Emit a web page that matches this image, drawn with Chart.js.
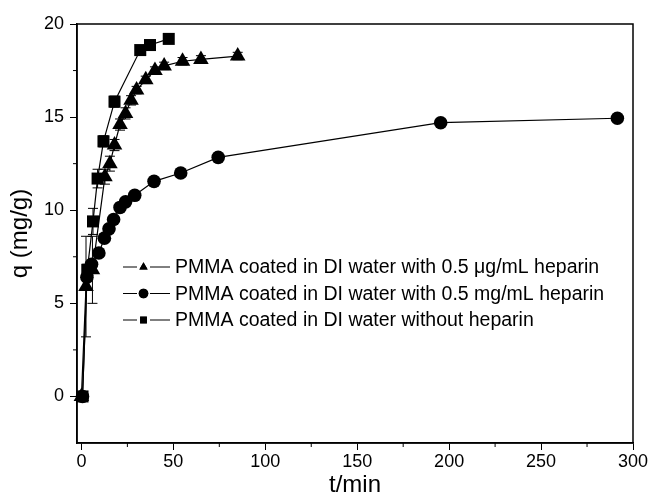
<!DOCTYPE html>
<html>
<head>
<meta charset="utf-8">
<script src="https://cdn.jsdelivr.net/npm/chart.js@4.4.1/dist/chart.umd.min.js"></script>
<style>
  html, body { margin: 0; padding: 0; background: #fff; }
</style>
</head>
<body>
<canvas id="chart" width="652" height="500"></canvas>
<script>
// series labels
const seriesLabels = [
  'PMMA coated in DI water with 0.5 \u03bcg/mL heparin',
  'PMMA coated in DI water with 0.5 mg/mL heparin',
  'PMMA coated in DI water without heparin'
];

// 0.5 ug/mL heparin (triangles)
const ugTime = [0, 2.5, 6, 12.8, 15.5, 18, 21, 24, 27, 30, 35, 40, 45, 55, 65, 85];
const ugQ    = [0, 5.9, 6.8, 11.8, 12.5, 13.5, 14.6, 15.2, 15.9, 16.45, 17.0, 17.5, 17.75, 18.0, 18.1, 18.28];
const ugErr  = [0, 2.7, 1.8, 0.4, 0.4, 0.3, 0.3, 0.3, 0.25, 0.2, 0.2, 0.2, 0.2, 0.2, 0.2, 0.2];

// 0.5 mg/mL heparin (circles)
const mgTime = [0.6, 3, 5.5, 9.5, 12.5, 15, 17.5, 21, 24, 29, 39.5, 54, 74.4, 195.4, 291.5];
const mgQ    = [0, 6.4, 7.1, 7.7, 8.5, 9.0, 9.5, 10.15, 10.45, 10.8, 11.55, 12.0, 12.84, 14.7, 14.94];

// without heparin (squares)
const noTime = [0.6, 3.2, 6.3, 8.8, 12, 18, 32, 37.3, 47.5];
const noQ    = [0, 6.8, 9.4, 11.7, 13.7, 15.83, 18.6, 18.87, 19.2];
const noErr  = [0, 0.3, 0.7, 0.5, 0.3, 0.3, 0.2, 0.2, 0.2];

const xTicks = [0, 50, 100, 150, 200, 250, 300];
const yTicks = [0, 5, 10, 15, 20];

const FONT = 'Arial, "Liberation Sans", sans-serif';

function pts(xs, ys) { return xs.map((x, i) => ({ x: x, y: ys[i] })); }

const errors = [ugErr, null, noErr];
const markers = [
  { style: 'triangle', radius: 9 },
  { style: 'circle', radius: 6.8 },
  { style: 'rect', radius: 8.5 }
];

const extras = {
  id: 'extras',
  beforeDatasetsDraw(chart) {
    const ctx = chart.ctx, xs = chart.scales.x, ys = chart.scales.y;
    ctx.save();
    ctx.strokeStyle = '#000';
    ctx.lineWidth = 1;
    errors.forEach((errs, i) => {
      if (!errs) return;
      const ds = chart.data.datasets[i];
      ds.data.forEach((p, j) => {
        if (!errs[j]) return;
        const x = xs.getPixelForValue(p.x);
        const y1 = ys.getPixelForValue(p.y - errs[j]);
        const y2 = ys.getPixelForValue(p.y + errs[j]);
        ctx.beginPath();
        ctx.moveTo(x, y1); ctx.lineTo(x, y2);
        ctx.moveTo(x - 5, y1); ctx.lineTo(x + 5, y1);
        ctx.moveTo(x - 5, y2); ctx.lineTo(x + 5, y2);
        ctx.stroke();
      });
    });
    ctx.restore();
  },
  afterDraw(chart) {
    const ctx = chart.ctx, a = chart.chartArea, xs = chart.scales.x, ys = chart.scales.y;
    ctx.save();
    ctx.strokeStyle = '#000';
    ctx.lineWidth = 1.5;
    ctx.strokeRect(a.left, a.top, a.right - a.left, a.bottom - a.top);
    // minor ticks
    ctx.lineWidth = 1;
    ctx.beginPath();
    for (let v = 25; v < 300; v += 50) {
      const x = xs.getPixelForValue(v);
      ctx.moveTo(x, a.bottom); ctx.lineTo(x, a.bottom + 4);
    }
    for (let v = 2.5; v < 20; v += 5) {
      const y = ys.getPixelForValue(v);
      ctx.moveTo(a.left, y); ctx.lineTo(a.left - 4, y);
    }
    ctx.stroke();

    // legend inside the plot
    const lx = 123, rows = [267, 293.5, 320];
    ctx.font = '19.5px ' + FONT;
    ctx.textBaseline = 'middle';
    ctx.fillStyle = '#000';
    rows.forEach((ry, i) => {
      ctx.beginPath();
      ctx.moveTo(lx, ry); ctx.lineTo(lx + 14, ry);
      ctx.moveTo(lx + 27, ry); ctx.lineTo(lx + 47, ry);
      ctx.stroke();
      Chart.helpers.drawPoint(ctx, { pointStyle: markers[i].style, radius: 4.8, borderWidth: 0 }, lx + 20.5, ry);
      ctx.fill();
      ctx.fillText(chart.data.datasets[i].label, lx + 52, ry + 1);
    });
    ctx.restore();
  }
};

const sets = [pts(ugTime, ugQ), pts(mgTime, mgQ), pts(noTime, noQ)];

new Chart(document.getElementById('chart'), {
  type: 'line',
  data: {
    datasets: sets.map((d, i) => ({
      label: seriesLabels[i],
      data: d,
      borderColor: '#000',
      backgroundColor: '#000',
      borderWidth: 1.2,
      pointStyle: markers[i].style,
      pointRadius: markers[i].radius,
      pointHoverRadius: markers[i].radius,
      pointBorderWidth: 0,
      tension: 0,
      clip: false
    }))
  },
  options: {
    responsive: false,
    animation: false,
    layout: { padding: { top: 24, right: 19, left: 0, bottom: 0 } },
    plugins: { legend: { display: false }, tooltip: { enabled: false } },
    scales: {
      x: {
        type: 'linear',
        min: -2.4,
        max: 300,
        afterBuildTicks: s => { s.ticks = xTicks.map(v => ({ value: v })); },
        afterFit: s => { s.height = 57; },
        grid: { drawOnChartArea: false, tickLength: 7, color: '#000' },
        border: { color: '#000', width: 1.5 },
        ticks: { color: '#000', font: { family: FONT, size: 18 }, padding: 1, maxRotation: 0 },
        title: { display: true, text: 't/min', color: '#000', font: { family: FONT, size: 24 }, padding: 0 }
      },
      y: {
        type: 'linear',
        min: -2.5,
        max: 20,
        afterBuildTicks: s => { s.ticks = yTicks.map(v => ({ value: v })); },
        afterFit: s => { s.width = 77; },
        grid: { drawOnChartArea: false, tickLength: 7, color: '#000' },
        border: { color: '#000', width: 1.5 },
        ticks: { color: '#000', font: { family: FONT, size: 18 }, padding: 6 },
        title: { display: true, text: 'q (mg/g)', color: '#000', font: { family: FONT, size: 24 }, padding: { top: 6, bottom: 0 } }
      }
    }
  },
  plugins: [extras]
});
</script>
</body>
</html>
